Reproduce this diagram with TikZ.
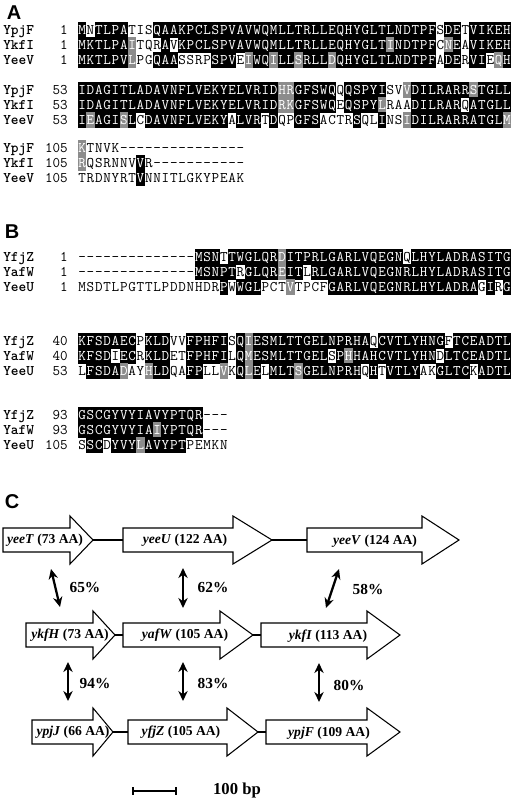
\documentclass[tikz,border=0pt]{standalone}
\usepackage{fontspec}
\setmainfont{Liberation Serif}
\newfontfamily\sansfam{Liberation Sans}
\usepackage{tikz}
\usetikzlibrary{arrows.meta}
\definecolor{simgray}{HTML}{8C8C8C}
\tikzset{
  res/.style={font=\ttfamily\fontsize{11}{12}\selectfont, inner sep=0pt, anchor=base},
  seqname/.style={font=\ttfamily\bfseries\fontsize{11}{12}\selectfont, inner sep=0pt, anchor=base west},
  seqnum/.style={font=\ttfamily\fontsize{11}{12}\selectfont, inner sep=0pt, anchor=base east},
  idbox/.style={fill=black},
  simbox/.style={fill=simgray},
  panel/.style={font=\sansfam\bfseries\fontsize{15}{18}\selectfont, inner sep=0pt},
  gene/.style={draw=black, line width=0.8pt, fill=white, line join=miter},
  spacer/.style={line width=2pt},
  glabel/.style={font=\bfseries\fontsize{10.2}{12}\selectfont, inner sep=0pt},
  homol/.style={line width=1.7pt, {Stealth[length=7.5pt,width=7pt]}-{Stealth[length=7.5pt,width=7pt]}},
  pct/.style={font=\bfseries\fontsize{11.5}{14}\selectfont, inner sep=0pt}
}

% one alignment row: y, name, start number, residues, shading (k = identical, g = similar, w = none)
\makeatletter
\newcounter{rowno}
\newcounter{cellno}
\newcommand\alnrow[5]{%
  \stepcounter{rowno}%
  \node[seqname] (name\arabic{rowno}) at (3,#1+4.4) {#2};
  \node[seqnum] (num\arabic{rowno}) at (68,#1+4.4) {#3};
  \def\rowy{#1}\def\cellx{78}\setcounter{cellno}{0}%
  \aln@next#4\relax#5wwwwwwww\relax}
\def\aln@next#1#2\relax#3#4\relax{%
  \aln@cell{#1}{#3}%
  \pgfmathsetmacro\cellx{\cellx+8.33}%
  \ifx\relax#2\relax\else\aln@next#2\relax#4\relax\fi}
\def\aln@cell#1#2{%
  \stepcounter{cellno}%
  \def\txtcol{black}%
  \if k#2\fill[idbox] (\cellx-0.1,\rowy-7.6) rectangle ++(8.53,15.2);\def\txtcol{white}\fi
  \if g#2\fill[simbox] (\cellx-0.1,\rowy-7.6) rectangle ++(8.53,15.2);\def\txtcol{white}\fi
  \node[res,text=\txtcol] (r\arabic{rowno}c\arabic{cellno}) at (\cellx+4.165,\rowy+4.4) {#1};}
\makeatother

% gene arrow: body start, head start, tip, y
\newcommand\gene[4]{%
  \draw[gene] (#1,#4-12) -- (#2,#4-12) -- (#2,#4-24) -- (#3,#4) -- (#2,#4+24) -- (#2,#4+12) -- (#1,#4+12) -- cycle;}

\begin{document}
\begin{tikzpicture}[x=0.75pt,y=-0.75pt]
  \useasboundingbox (0,0) rectangle (516,800);

  % A
  \node[panel] (pA) at (14,13) {A};
  \alnrow{30}{YpjF}{1}{MNTLPATISQ AAKPCLSPVA VWQMLLTRLL EQHYGLTLND TPFSDETVIK EH}{kwkkkkwwwk kkkkkkkkkk kkkkkkkkkk kkkkkkkkkk kkkwkkwkkk kk}
  \alnrow{45}{YkfI}{1}{MKTLPAITQR AVKPCLSPVA VWQMLLTRLL EQHYGLTIND TPFCNEAVIK EH}{kkkkkkgwww kwkkkkkkkk kkkkkkkkkk kkkkkkkgkk kkkwgkwkkk kk}
  \alnrow{60}{YeeV}{1}{MKTLPVLPGQ AASSRPSPVE IWQILLSRLL DQHYGLTLND TPFADERVIE QH}{kkkkkkgwwk kkwwwwkkkw gkkgkkgkkk gkkkkkkkkk kkkwkkwkkw gk}

  \alnrow{90}{YpjF}{53}{IDAGITLADA VNFLVEKYEL VRIDHRGFSW QQQSPYISVV DILRARRSTG LL}{kkkkkkkkkk kkkkkkkkkk kkkkggkkkk kwkkkkkwwg kkkkkkkgkk kk}
  \alnrow{105}{YkfI}{53}{IDAGITLADA VNFLVEKYEL VRIDRKGFSW QEQSPYLRAA DILRARQATG LL}{kkkkkkkkkk kkkkkkkkkk kkkkggkkkk kwkkkkgwww kkkkkkwkkk kk}
  \alnrow{120}{YeeV}{53}{IEAGISLCDA VNFLVEKYAL VRTDQPGFSA CTRSQLINSI DILRARRATG LM}{kgkkkgkwkk kkkkkkkkwk kkwkwwkkkw wwwkwwkwwg kkkkkkkkkk kg}

  \alnrow{148}{YpjF}{105}{KTNVK----- ----------}{gwwwwwwwww wwwwwwwwww}
  \alnrow{163}{YkfI}{105}{RQSRNNVVR- ----------}{gwwwwwwkww wwwwwwwwww}
  \alnrow{178}{YeeV}{105}{TRDNYRTVNN ITLGKYPEAK}{wwwwwwwkww wwwwwwwwww}

  % B
  \node[panel] (pB) at (12,232) {B};
  \alnrow{257}{YfjZ}{1}{---------- ----MSNTTW GLQRDITPRL GARLVQEGNQ LHYLADRASI TG}{wwwwwwwwww wwwwkkkwkk kkkkgkkkkk kkkkkkkkkw kkkkkkkkkk kk}
  \alnrow{272}{YafW}{1}{---------- ----MSNPTR GLQREITLRL GARLVQEGNR LHYLADRASI TG}{wwwwwwwwww wwwwkkkkkw kkkkgkkwkk kkkkkkkkkk kkkkkkkkkk kk}
  \alnrow{287}{YeeU}{1}{MSDTLPGTTL PDDNHDRPWW GLPCTVTPCF GARLVQEGNR LHYLADRAGI RG}{wwwwwwwwww wwwwwwwkwk kkwwwgwwww kkkkkkkkkk kkkkkkkkwk wk}

  \alnrow{341}{YfjZ}{40}{KFSDAECPKL DVVFPHFISQ IESMLTTGEL NPRHAQCVTL YHNGFTCEAD TL}{kkkkkkkwkk kwwkkkkkwk gkkkkkkkkk kkkkkwkkkk kkkkwkkkkk kk}
  \alnrow{356}{YafW}{40}{KFSDIECRKL DETFPHFILQ MESMLTTGEL SPHHAHCVTL YHNDLTCEAD TL}{kkkkwkkwkk kwwkkkkkwk gkkkkkkkkk wkgkkkkkkk kkkwkkkkkk kk}
  \alnrow{371}{YeeU}{53}{LFSDADAYHL DQAFPLLVKQ LELMLTSGEL NPRHQHTVTL YAKGLTCKAD TL}{wkkkkgwwgk kwwkkwwgwk gkwkkkgkkk kkkkwkwkkk kwwkkkkwkk kk}

  \alnrow{415}{YfjZ}{93}{GSCGYVYIAV YPTQR---}{kkkkkkkkkk kkkkkwww}
  \alnrow{430}{YafW}{93}{GSCGYVYIAI YPTQR---}{kkkkkkkkkg kkkkkwww}
  \alnrow{445}{YeeU}{105}{SSCDYVYLAV YPTPEMKN}{wkkwkkkgkk kkkwwwww}

  % C
  \node[panel] (pC) at (12,502) {C};
  \draw[spacer] (93,540) -- (123,540);
  \draw[spacer] (272,540) -- (307,540);
  \draw[spacer] (115,635) -- (123,635);
  \draw[spacer] (253,635) -- (261,635);
  \draw[spacer] (113,732) -- (128,732);
  \draw[spacer] (258,732) -- (266,732);
  \gene{3}{70}{93}{540}
  \gene{123}{233}{272}{540}
  \gene{307}{422}{459}{540}
  \gene{26}{93}{115}{635}
  \gene{123}{220}{253}{635}
  \gene{261}{367}{400}{635}
  \gene{32}{93}{113}{732}
  \gene{128}{227}{258}{732}
  \gene{266}{367}{400}{732}
  \node[glabel] (yeeT) at (45,540) {\textit{yeeT} (73 AA)};
  \node[glabel] (yeeU) at (185,540) {\textit{yeeU} (122 AA)};
  \node[glabel] (yeeV) at (375,541) {\textit{yeeV} (124 AA)};
  \node[glabel] (ykfH) at (70,635) {\textit{ykfH} (73 AA)};
  \node[glabel] (yafW) at (185,635) {\textit{yafW} (105 AA)};
  \node[glabel] (ykfI) at (328,636) {\textit{ykfI} (113 AA)};
  \node[glabel] (ypjJ) at (73,732) {\textit{ypjJ} (66 AA)};
  \node[glabel] (yfjZ) at (181,732) {\textit{yfjZ} (105 AA)};
  \node[glabel] (ypjF) at (329,733) {\textit{ypjF} (109 AA)};

  \coordinate (h1a) at (51,569);  \coordinate (h1b) at (60,607);
  \coordinate (h2a) at (183,568); \coordinate (h2b) at (183,608);
  \coordinate (h3a) at (339,569); \coordinate (h3b) at (326,608);
  \coordinate (h4a) at (68,662);  \coordinate (h4b) at (68,701);
  \coordinate (h5a) at (183,662); \coordinate (h5b) at (183,701);
  \coordinate (h6a) at (319,663); \coordinate (h6b) at (319,702);
  \draw[homol] (h1a) -- (h1b);
  \draw[homol] (h2a) -- (h2b);
  \draw[homol] (h3a) -- (h3b);
  \draw[homol] (h4a) -- (h4b);
  \draw[homol] (h5a) -- (h5b);
  \draw[homol] (h6a) -- (h6b);
  \node[pct] (p65) at (85,587) {65\%};
  \node[pct] (p62) at (213,587) {62\%};
  \node[pct] (p58) at (368,589) {58\%};
  \node[pct] (p94) at (95,683) {94\%};
  \node[pct] (p83) at (213,683) {83\%};
  \node[pct] (p80) at (349,685) {80\%};

  % scale bar
  \coordinate (sb1) at (133,791); \coordinate (sb2) at (176,791);
  \draw[spacer] (sb1) -- (sb2);
  \draw[line width=1pt] (133,787) -- (133,795) (176,787) -- (176,795);
  \node[pct, font=\bfseries\fontsize{12.5}{14}\selectfont] (bp) at (237,790) {100 bp};
\end{tikzpicture}
\end{document}
